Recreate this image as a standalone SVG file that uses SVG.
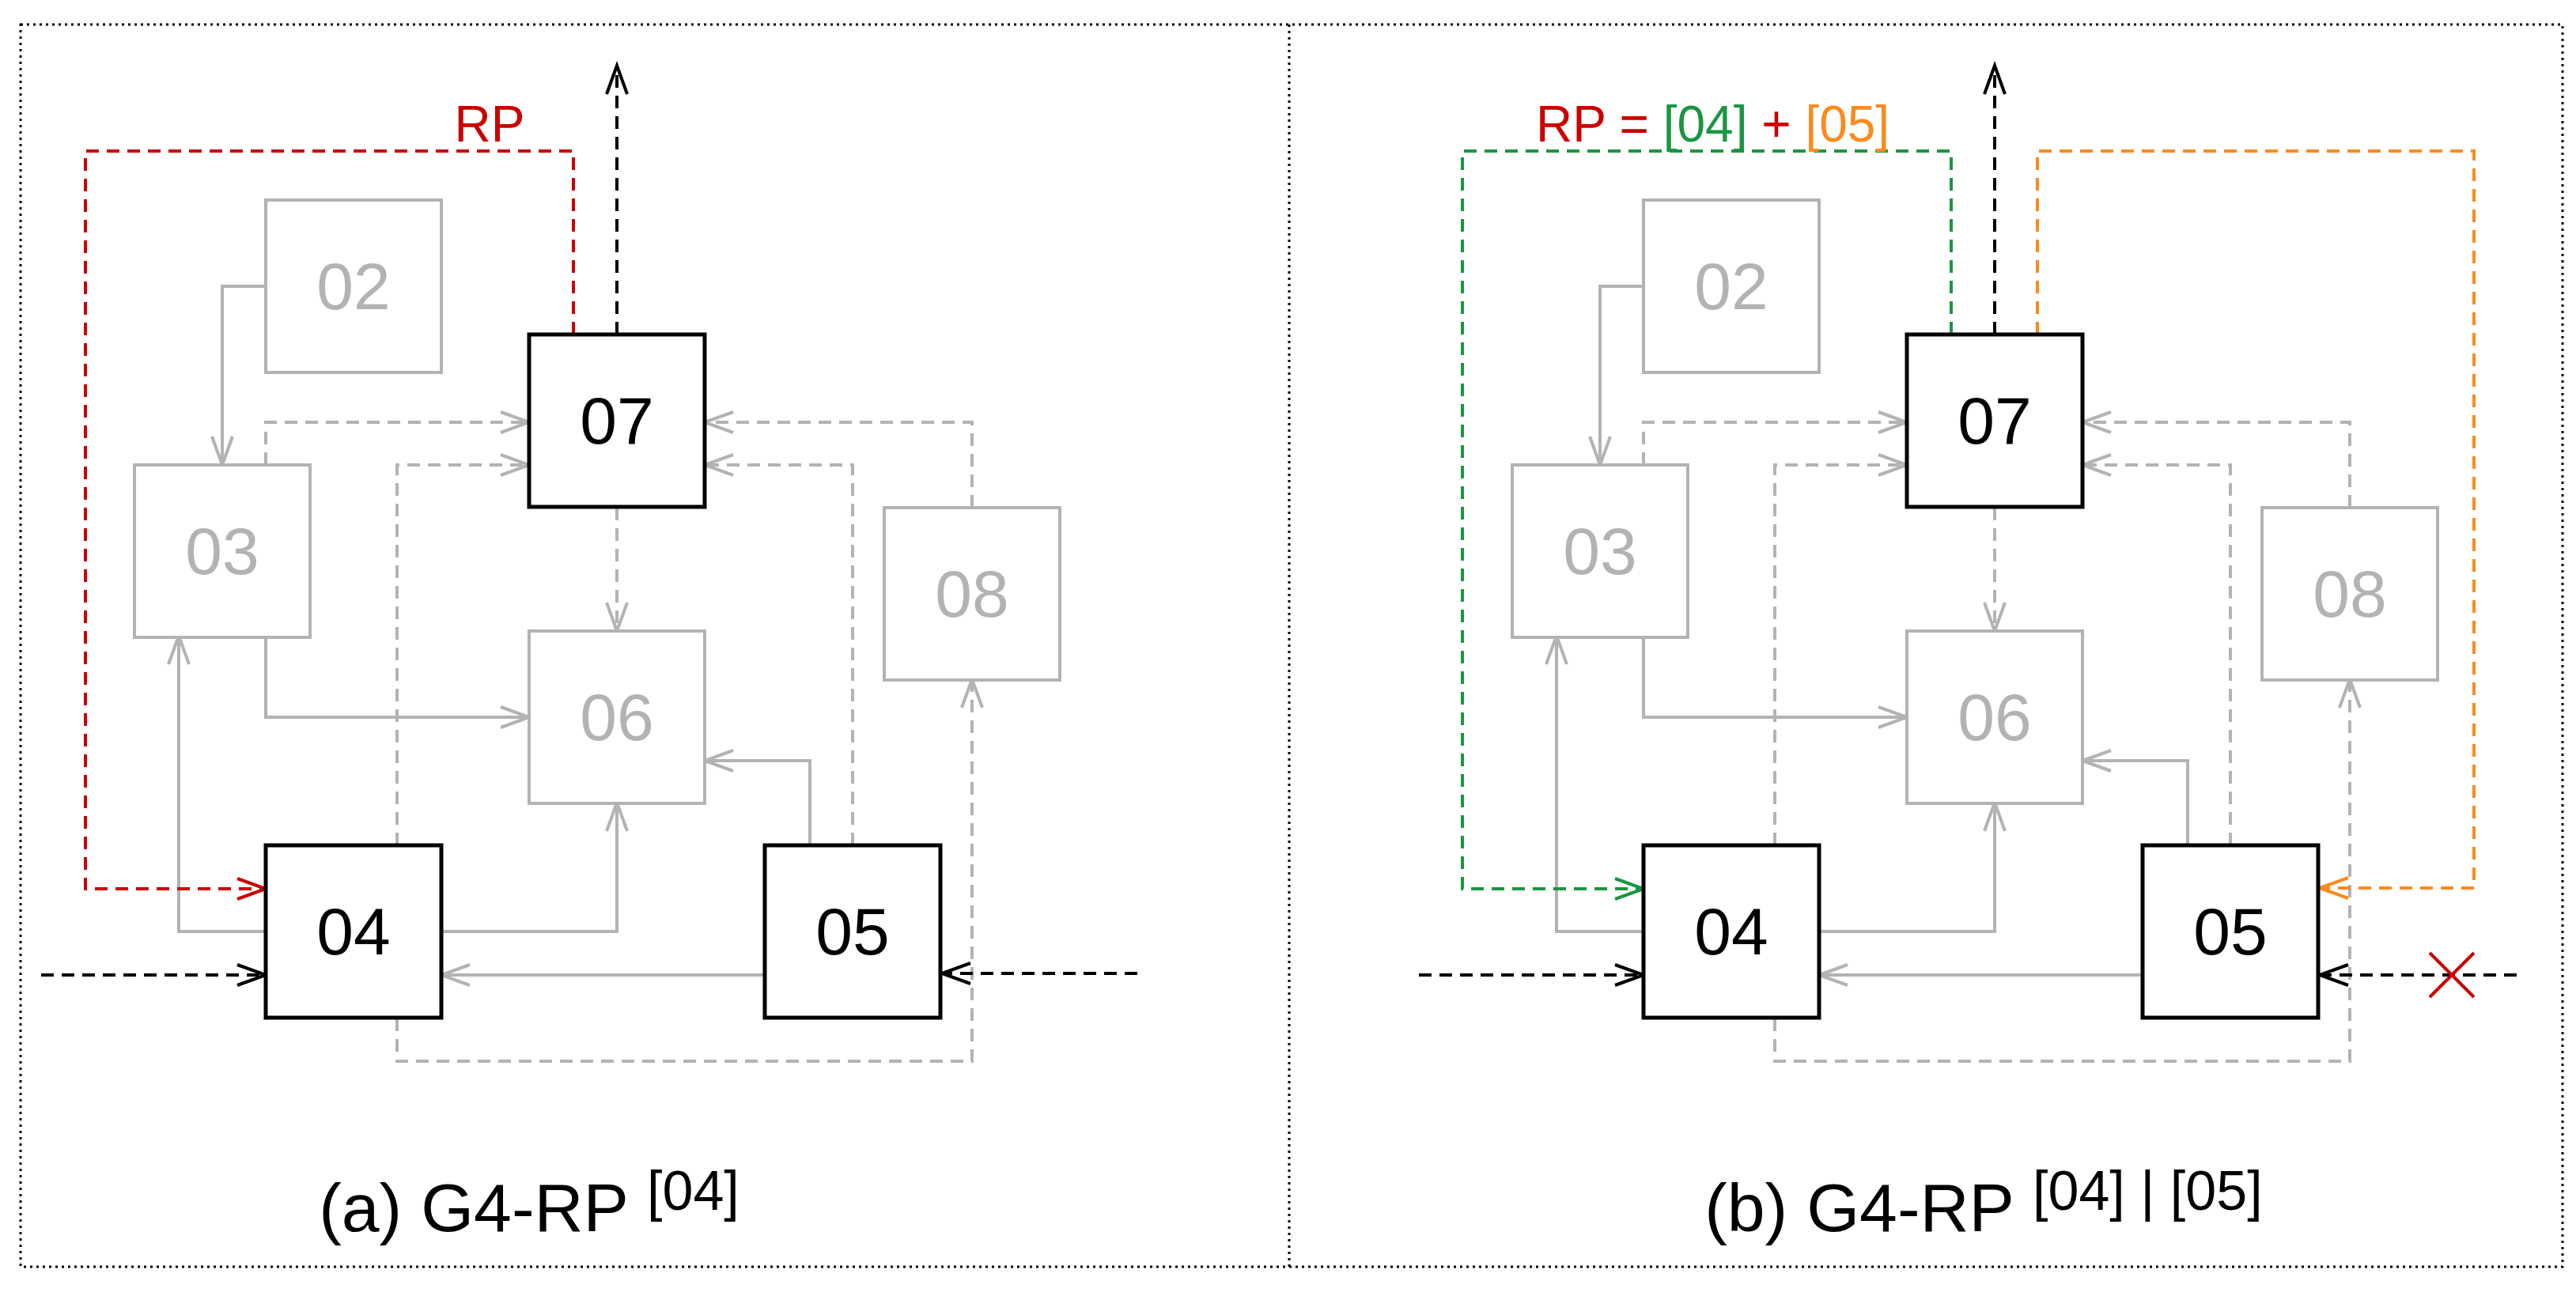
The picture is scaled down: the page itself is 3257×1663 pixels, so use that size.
<svg xmlns="http://www.w3.org/2000/svg" width="3257" height="1663" viewBox="0 0 3257 1663">
<style>
text{font-family:"Liberation Sans",Arial,sans-serif}
.bk rect{fill:#fff;stroke:#000;stroke-width:5}
.gy rect{fill:#fff;stroke:#b3b3b3;stroke-width:4}
.bk text{fill:#000;font-size:84px;text-anchor:middle;dominant-baseline:central}
.gy text{fill:#b3b3b3;font-size:84px;text-anchor:middle;dominant-baseline:central}
.c{fill:none;stroke-width:4}
.g{stroke:#b3b3b3;marker-end:url(#mg)}
.d{stroke-dasharray:16 10}
.k{stroke:#000;marker-end:url(#mk)}
.r{stroke:#cc0000;marker-end:url(#mr)}
.gr{stroke:#1a9641;marker-end:url(#mgr)}
.o{stroke:#f98b1e;marker-end:url(#mo)}
.cap{font-size:86px;fill:#000;text-anchor:end}
.sup{font-size:70px;fill:#000}
</style>
<defs>
<marker id="mg" markerUnits="userSpaceOnUse" orient="auto" overflow="visible" markerWidth="1" markerHeight="1"><path d="M-36,-13 L0,0 L-36,13" fill="none" stroke="#b3b3b3" stroke-width="4"/></marker>
<marker id="mk" markerUnits="userSpaceOnUse" orient="auto" overflow="visible" markerWidth="1" markerHeight="1"><path d="M-36,-13 L0,0 L-36,13" fill="none" stroke="#000" stroke-width="4"/></marker>
<marker id="mr" markerUnits="userSpaceOnUse" orient="auto" overflow="visible" markerWidth="1" markerHeight="1"><path d="M-36,-13 L0,0 L-36,13" fill="none" stroke="#cc0000" stroke-width="4"/></marker>
<marker id="mgr" markerUnits="userSpaceOnUse" orient="auto" overflow="visible" markerWidth="1" markerHeight="1"><path d="M-36,-13 L0,0 L-36,13" fill="none" stroke="#1a9641" stroke-width="4"/></marker>
<marker id="mo" markerUnits="userSpaceOnUse" orient="auto" overflow="visible" markerWidth="1" markerHeight="1"><path d="M-36,-13 L0,0 L-36,13" fill="none" stroke="#f98b1e" stroke-width="4"/></marker>
</defs>
<rect x="0" y="0" width="3257" height="1663" fill="#fff"/>
<g id="frame" fill="none" stroke="#000" stroke-width="3" stroke-dasharray="3 5">
<rect x="26" y="31" width="3214" height="1571"/>
<line x1="1630" y1="31" x2="1630" y2="1602"/>
</g>

<g id="panel-a">
<g id="a-connectors">
<path class="c g" d="M336,362 H281 V588"/>
<path class="c g" d="M336,804 V907 H669"/>
<path class="c g" d="M336,1178 H226 V804"/>
<path class="c g" d="M558,1178 H780 V1015"/>
<path class="c g" d="M1024,1069 V962 H891"/>
<path class="c g" d="M967,1233 H558"/>
<path class="c g d" d="M336,588 V534 H669"/>
<path class="c g d" d="M502,1069 V588 H669"/>
<path class="c g d" d="M780,642 V798"/>
<path class="c g d" d="M1078,1069 V588 H891"/>
<path class="c g d" d="M1229,642 V534 H891"/>
<path class="c g d" d="M502,1288 V1342 H1229 V859"/>
<path class="c k d" d="M52,1233 H336"/>
<path class="c k d" d="M1438,1231 H1191"/>
<path class="c k d" d="M780,423 V83"/>
<path class="c r d" d="M725,423 V191 H108 V1124 H336"/>
</g>
<g id="a-02" class="gy"><rect x="336" y="253" width="222" height="218"/><text x="447" y="362">02</text></g>
<g id="a-03" class="gy"><rect x="170" y="588" width="222" height="218"/><text x="281" y="697">03</text></g>
<g id="a-06" class="gy"><rect x="669" y="798" width="222" height="218"/><text x="780" y="907">06</text></g>
<g id="a-08" class="gy"><rect x="1118" y="642" width="222" height="218"/><text x="1229" y="751">08</text></g>
<g id="a-07" class="bk"><rect x="669" y="423" width="222" height="218"/><text x="780" y="532">07</text></g>
<g id="a-04" class="bk"><rect x="336" y="1069" width="222" height="218"/><text x="447" y="1178">04</text></g>
<g id="a-05" class="bk"><rect x="967" y="1069" width="222" height="218"/><text x="1078" y="1178">05</text></g>
<text x="619" y="179" font-size="64" fill="#cc0000" text-anchor="middle">RP</text>
<text class="cap" x="795" y="1557">(a) G4-RP</text>
<text class="sup" x="818" y="1530">[04]</text>
</g>

<g id="panel-b" transform="translate(1742,0)">
<g id="b-connectors">
<path class="c g" d="M336,362 H281 V588"/>
<path class="c g" d="M336,804 V907 H669"/>
<path class="c g" d="M336,1178 H226 V804"/>
<path class="c g" d="M558,1178 H780 V1015"/>
<path class="c g" d="M1024,1069 V962 H891"/>
<path class="c g" d="M967,1233 H558"/>
<path class="c g d" d="M336,588 V534 H669"/>
<path class="c g d" d="M502,1069 V588 H669"/>
<path class="c g d" d="M780,642 V798"/>
<path class="c g d" d="M1078,1069 V588 H891"/>
<path class="c g d" d="M1229,642 V534 H891"/>
<path class="c g d" d="M502,1288 V1342 H1229 V859"/>
<path class="c k d" d="M52,1233 H336"/>
<path class="c k d" d="M1440,1233 H1191"/>
<path class="c k d" d="M780,423 V83"/>
<path class="c gr d" d="M725,423 V191 H107 V1124 H336"/>
<path class="c o d" d="M834,423 V191 H1386 V1123 H1191"/>
<path d="M1330,1205 L1386,1261 M1386,1205 L1330,1261" stroke="#cc0000" stroke-width="4" fill="none"/>
</g>
<g id="b-02" class="gy"><rect x="336" y="253" width="222" height="218"/><text x="447" y="362">02</text></g>
<g id="b-03" class="gy"><rect x="170" y="588" width="222" height="218"/><text x="281" y="697">03</text></g>
<g id="b-06" class="gy"><rect x="669" y="798" width="222" height="218"/><text x="780" y="907">06</text></g>
<g id="b-08" class="gy"><rect x="1118" y="642" width="222" height="218"/><text x="1229" y="751">08</text></g>
<g id="b-07" class="bk"><rect x="669" y="423" width="222" height="218"/><text x="780" y="532">07</text></g>
<g id="b-04" class="bk"><rect x="336" y="1069" width="222" height="218"/><text x="447" y="1178">04</text></g>
<g id="b-05" class="bk"><rect x="967" y="1069" width="222" height="218"/><text x="1078" y="1178">05</text></g>
<text x="200" y="179" font-size="64"><tspan fill="#cc0000">RP = </tspan><tspan fill="#1a9641">[04]</tspan><tspan fill="#cc0000"> + </tspan><tspan fill="#f98b1e">[05]</tspan></text>
<text class="cap" x="805" y="1557">(b) G4-RP</text>
<text class="sup" x="828" y="1530">[04] | [05]</text>
</g>
</svg>
